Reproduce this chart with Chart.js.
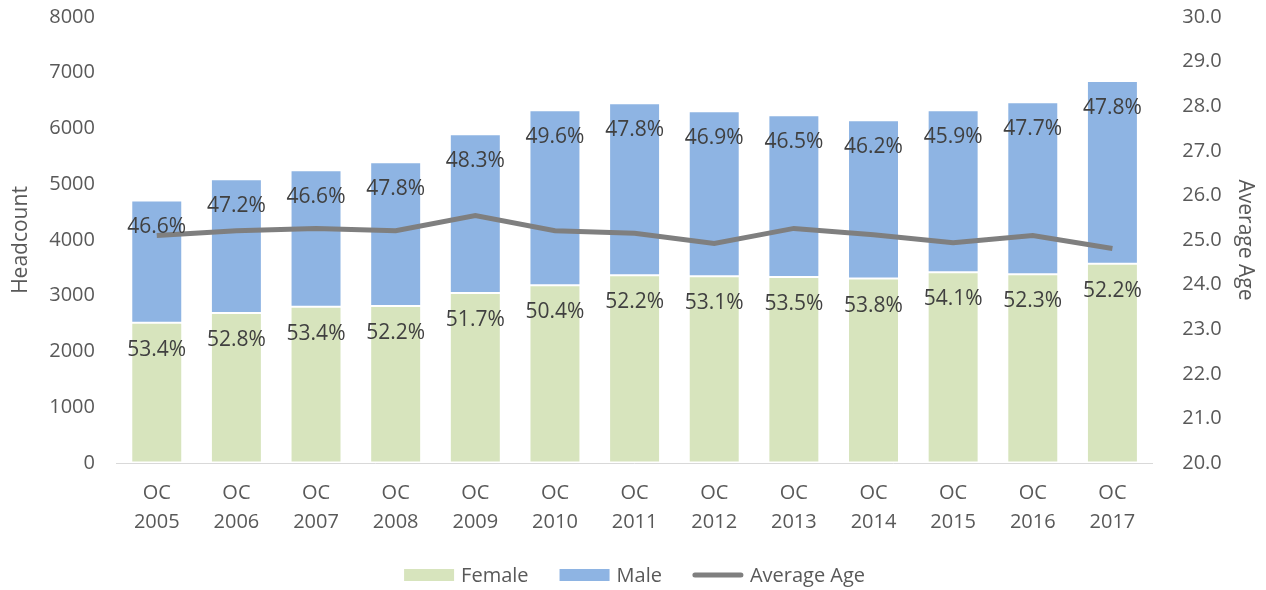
<!DOCTYPE html>
<html><head><meta charset="utf-8">
<script src="https://cdn.jsdelivr.net/npm/chart.js@4/dist/chart.umd.min.js"></script>
<style>html,body{margin:0;padding:0;background:#fff;}#wrap{width:1266px;height:590px;position:relative;}</style>
</head><body><div id="wrap"><canvas id="c" width="1266" height="590"></canvas></div>
<script>
const categories = [['OC','2005'],['OC','2006'],['OC','2007'],['OC','2008'],['OC','2009'],['OC','2010'],['OC','2011'],['OC','2012'],['OC','2013'],['OC','2014'],['OC','2015'],['OC','2016'],['OC','2017']];
const femaleCount = [2515, 2690, 2803, 2815, 3049, 3189, 3369, 3351, 3337, 3308, 3423, 3385, 3576];
const maleCount   = [2195, 2398, 2447, 2578, 2848, 3139, 3085, 2959, 2901, 2840, 2905, 3087, 3274];
const femalePct = ['53.4%','52.8%','53.4%','52.2%','51.7%','50.4%','52.2%','53.1%','53.5%','53.8%','54.1%','52.3%','52.2%'];
const malePct   = ['46.6%','47.2%','46.6%','47.8%','48.3%','49.6%','47.8%','46.9%','46.5%','46.2%','45.9%','47.7%','47.8%'];
const averageAge = [25.10, 25.21, 25.26, 25.21, 25.55, 25.21, 25.15, 24.92, 25.26, 25.12, 24.94, 25.10, 24.81];
const legendOrder = ['Female', 'Male', 'Average Age'];

const FONT = "'Open Sans', sans-serif";
const labelPlugin = {
  id: 'barLabels',
  afterDatasetsDraw(chart) {
    const ctx = chart.ctx;
    ctx.save();
    ctx.font = '21px ' + FONT;
    ctx.fillStyle = '#404040';
    ctx.textAlign = 'center';
    ctx.textBaseline = 'middle';
    [[1, femalePct], [2, malePct]].forEach(([di, labels]) => {
      const meta = chart.getDatasetMeta(di);
      meta.data.forEach((bar, i) => {
        ctx.fillText(labels[i], bar.x, bar.y + 27);
      });
    });
    ctx.restore();
  }
};

const legendPlugin = {
  id: 'customLegend',
  afterDraw(chart) {
    const ctx = chart.ctx;
    ctx.save();
    ctx.font = '20px ' + FONT;
    ctx.textBaseline = 'middle';
    ctx.textAlign = 'left';
    const boxW = 50, boxH = 12, gapText = 7, gapItem = 31;
    const items = legendOrder.map(name => chart.data.datasets.find(d => d.label === name));
    const widths = items.map(d => boxW + gapText + ctx.measureText(d.label).width);
    const total = widths.reduce((a, b) => a + b, 0) + gapItem * (items.length - 1);
    const cx = (chart.chartArea.left + chart.chartArea.right) / 2;
    let x = cx - total / 2;
    const y = 575;
    items.forEach((d, i) => {
      if (d.type === 'line') {
        ctx.strokeStyle = d.borderColor;
        ctx.lineWidth = 5;
        ctx.lineCap = 'round';
        ctx.beginPath();
        ctx.moveTo(x + 2, y); ctx.lineTo(x + boxW - 2, y);
        ctx.stroke();
      } else {
        ctx.fillStyle = d.backgroundColor;
        ctx.fillRect(x, y - boxH / 2, boxW, boxH);
      }
      ctx.fillStyle = '#595959';
      ctx.fillText(d.label, x + boxW + gapText, y + 1);
      x += widths[i] + gapItem;
    });
    ctx.restore();
  }
};

new Chart(document.getElementById('c'), {
  data: {
    labels: categories,
    datasets: [
      { type: 'line', label: 'Average Age', data: averageAge, yAxisID: 'y1', borderColor: '#7f7f7f', backgroundColor: '#7f7f7f', borderWidth: 5, pointRadius: 0, tension: 0, order: 0 },
      { type: 'bar', label: 'Female', data: femaleCount, yAxisID: 'y', backgroundColor: '#d7e4bd', borderColor: '#ffffff', borderWidth: 1, borderSkipped: false, stack: 's', order: 1 },
      { type: 'bar', label: 'Male', data: maleCount, yAxisID: 'y', backgroundColor: '#8eb4e3', borderColor: '#ffffff', borderWidth: 1, borderSkipped: false, stack: 's', order: 1 }
    ]
  },
  options: {
    responsive: false,
    animation: false,
    layout: { padding: { top: 0, left: 0, right: 0, bottom: 37 } },
    datasets: { bar: { barPercentage: 0.64, categoryPercentage: 1.0 } },
    plugins: {
      legend: { display: false },
      tooltip: { enabled: false }
    },
    scales: {
      x: {
        stacked: true,
        grid: { display: false, drawTicks: false },
        border: { color: '#d9d9d9', width: 1 },
        ticks: { font: { family: FONT, size: 20, lineHeight: 1.45 }, color: '#595959', padding: 16 }
      },
      y: {
        stacked: true, position: 'left', min: 0, max: 8000,
        ticks: { stepSize: 1000, callback: v => String(v), font: { family: FONT, size: 20 }, color: '#595959', padding: 5 },
        grid: { display: true, drawOnChartArea: false, drawTicks: true, tickLength: 17, color: 'rgba(0,0,0,0)' },
        border: { display: false },
        title: { display: true, text: 'Headcount', font: { family: FONT, size: 21 }, color: '#595959', padding: { top: 8, bottom: 11 } }
      },
      y1: {
        position: 'right', min: 20, max: 30,
        ticks: { stepSize: 1, callback: v => v.toFixed(1), font: { family: FONT, size: 20 }, color: '#595959', padding: 5 },
        grid: { display: true, drawOnChartArea: false, drawTicks: true, tickLength: 25, color: 'rgba(0,0,0,0)' },
        border: { display: false },
        title: { display: true, text: 'Average Age', font: { family: FONT, size: 21 }, color: '#595959', padding: { top: 8, bottom: 6 } }
      }
    }
  },
  plugins: [labelPlugin, legendPlugin]
});
</script></body></html>
